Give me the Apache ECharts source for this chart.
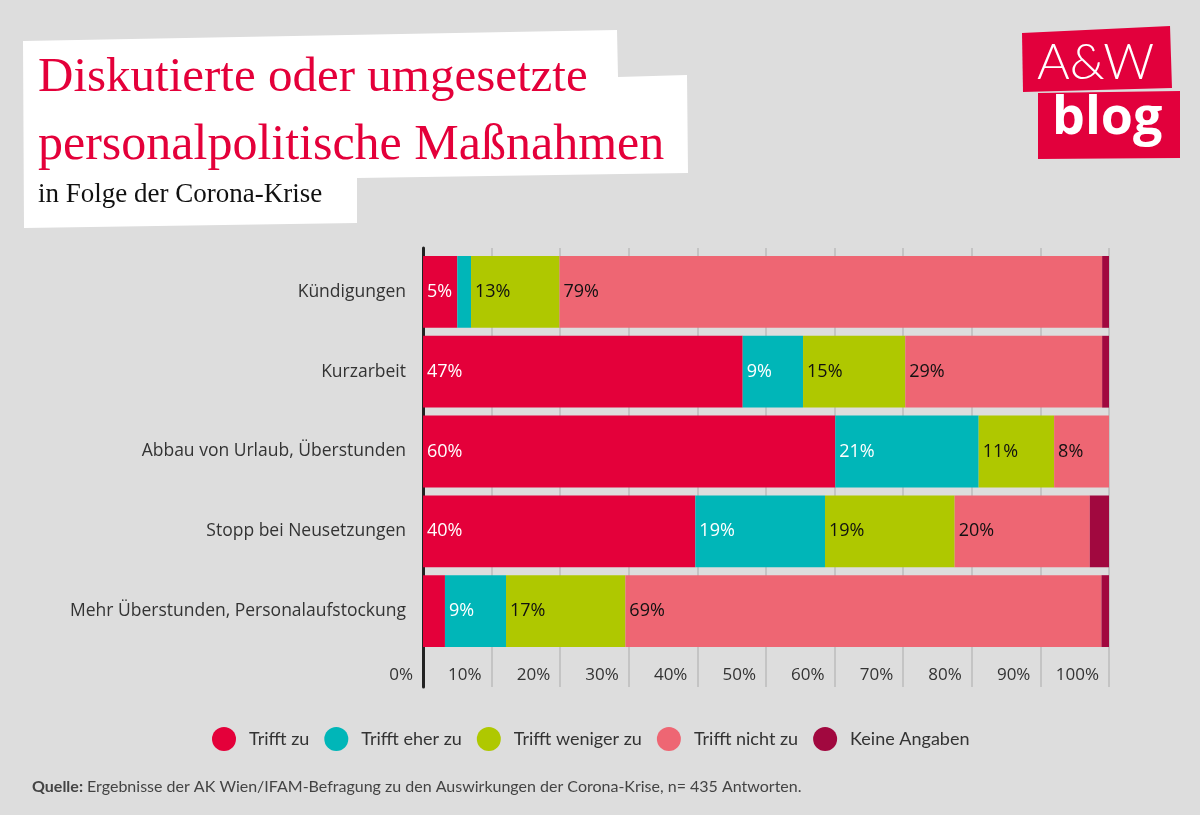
<!DOCTYPE html>
<html><head><meta charset="utf-8">
<script src="https://cdn.jsdelivr.net/npm/echarts@6/dist/echarts.min.js"></script>
<style>html,body{margin:0;padding:0;background:#dddddd}#c{width:1200px;height:815px}</style>
</head><body><div id="c"></div>
<script>
// ---- data ----
const categories = ['Kündigungen', 'Kurzarbeit', 'Abbau von Urlaub, Überstunden', 'Stopp bei Neusetzungen', 'Mehr Überstunden, Personalaufstockung'];
const seriesNames = ['Trifft zu', 'Trifft eher zu', 'Trifft weniger zu', 'Trifft nicht zu', 'Keine Angaben'];
const trifftZu        = [5.0, 46.6, 60.1, 39.7, 3.2];
const trifftEherZu    = [2.0, 8.8, 20.9, 18.9, 8.9];
const trifftWenigerZu = [12.9, 14.9, 11.0, 18.9, 17.4];
const trifftNichtZu   = [79.1, 28.7, 8.0, 19.7, 69.4];
const keineAngaben    = [1.0, 1.0, 0.0, 2.8, 1.1];
const xTickValues = [0, 10, 20, 30, 40, 50, 60, 70, 80, 90, 100];
const titleLines = ['Diskutierte oder umgesetzte', 'personalpolitische Maßnahmen'];
const subtitle = 'in Folge der Corona-Krise';
const sourceBold = 'Quelle:';
const sourceText = ' Ergebnisse der AK Wien/IFAM-Befragung zu den Auswirkungen der Corona-Krise, n= 435 Antworten.';

// ---- styles ----
const colors = ['#e4003a', '#00b6b8', '#afc800', '#ee6673', '#a1083f'];
const labelColors = ['#ffffff', '#ffffff', '#111111', '#111111', '#ffffff'];
const values = [trifftZu, trifftEherZu, trifftWenigerZu, trifftNichtZu, keineAngaben];
const sansFont = '"Open Sans", "Noto Sans", sans-serif';
const narrowFont = 'Lato, sans-serif';
const serifFont = '"Liberation Serif", serif';

const chart = echarts.init(document.getElementById('c'), null, {renderer: 'canvas'});

const series = seriesNames.map((name, i) => ({
  name: name,
  type: 'bar',
  stack: 'total',
  xAxisIndex: 0,
  yAxisIndex: 0,
  barCategoryGap: '10%',
  data: values[i],
  itemStyle: {color: colors[i]},
  emphasis: {disabled: true},
  label: {
    show: true,
    position: 'insideLeft',
    distance: 4,
    color: labelColors[i],
    fontFamily: sansFont,
    fontSize: 18,
    formatter: p => p.value >= 4.5 ? Math.round(p.value) + '%' : ''
  }
}));

chart.setOption({
  backgroundColor: '#dddddd',
  animation: false,
  grid: [
    {left: 423, width: 686, top: 252, height: 399},
    {left: 423, width: 686, top: 248, height: 439}
  ],
  xAxis: [
    {gridIndex: 0, type: 'value', min: 0, max: 100, show: false},
    {gridIndex: 1, type: 'value', min: xTickValues[0], max: xTickValues[xTickValues.length - 1], interval: 10,
     axisLine: {show: false}, axisTick: {show: false},
     splitLine: {show: true, lineStyle: {color: '#c4c4c4', width: 2}},
     axisLabel: {inside: true, margin: 3, align: 'right', padding: [0, 10, 0, 0],
       color: '#333', fontFamily: sansFont, fontSize: 17, formatter: '{value}%'}}
  ],
  yAxis: [
    {gridIndex: 0, type: 'category', inverse: true, data: categories,
     axisLine: {show: false}, axisTick: {show: false},
     axisLabel: {margin: 17, color: '#333', fontFamily: sansFont, fontSize: 17.5, padding: [4, 0, 0, 0]}},
    {gridIndex: 1, type: 'value', min: 0, max: 1, offset: 2,
     axisLine: {show: true, lineStyle: {color: '#222', width: 3}},
     axisTick: {show: false}, axisLabel: {show: false}, splitLine: {show: false}}
  ],
  legend: {
    left: 207, top: 722,
    icon: 'circle', itemWidth: 24, itemHeight: 24, itemGap: 15,
    data: seriesNames,
    textStyle: {color: '#333', fontFamily: narrowFont, fontSize: 18, padding: [0, 0, 0, 8]}
  },
  series: series,
  graphic: [
    {type: 'polygon', z: 0, shape: {points: [[23, 41], [617, 30], [618, 77], [687, 75], [688, 173], [357, 178], [357, 223], [24, 228]]},
     style: {fill: '#ffffff'}},
    {type: 'text', left: 38, top: 54, style: {text: titleLines[0], fill: '#e4003a', font: '49px ' + serifFont}},
    {type: 'text', left: 38, top: 121, style: {text: titleLines[1], fill: '#e4003a', font: '50px ' + serifFont}},
    {type: 'text', left: 38, top: 181, style: {text: subtitle, fill: '#111', font: '27px ' + serifFont}},
    // logo
    {type: 'polygon', shape: {points: [[1022, 33], [1170, 26], [1172, 88], [1023, 92]]}, style: {fill: '#e2003c'}},
    {type: 'polygon', shape: {points: [[1038, 93], [1180, 91], [1180, 158], [1038, 159]]}, style: {fill: '#e2003c'}},
    {type: 'text', left: 1037, top: 38, style: {text: 'A&W', fill: '#fff', font: '300 50px Lato, sans-serif'}},
    {type: 'text', left: 1052, top: 93, style: {text: 'blog', fill: '#fff', font: 'bold 52px "Open Sans", sans-serif'}},
    // source
    {type: 'text', left: 32, top: 779, style: {
      text: '{b|' + sourceBold + '}{r|' + sourceText + '}',
      rich: {
        b: {fontFamily: narrowFont, fontWeight: 'bold', fontSize: 16, fill: '#444', color: '#444'},
        r: {fontFamily: narrowFont, fontSize: 16, fill: '#444', color: '#444'}
      }}}
  ]
});
</script></body></html>
